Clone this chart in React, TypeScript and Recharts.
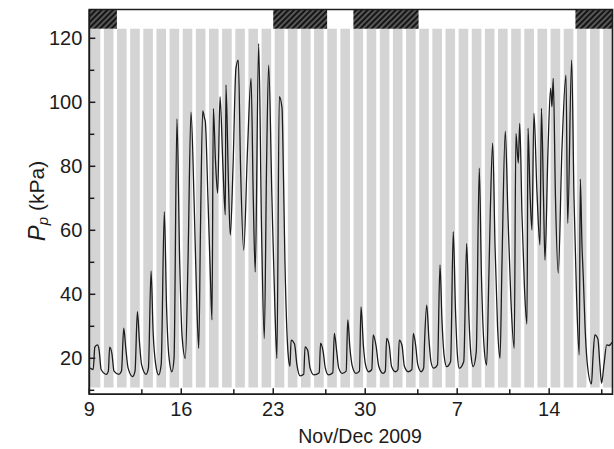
import { LineChart, Line, XAxis, YAxis, ReferenceArea } from 'recharts';

// time in days since 9 Nov 2009 00:00
const dayT = [
  0.05, 0.3, 0.42, 0.62, 0.75, 0.9, 1.3, 1.45, 1.55, 1.72, 1.88, 2.25, 2.45, 2.62, 2.78, 2.95, 3.3, 3.48, 3.66, 3.82,
  3.98, 4.32, 4.5, 4.7, 4.86, 5.04, 5.28, 5.47, 5.71, 5.88, 6.05, 6.29, 6.45, 6.67, 6.88, 7.06, 7.31, 7.51, 7.74, 7.97,
  8.16, 8.33, 8.46, 8.63, 8.77, 8.83, 9.03, 9.22, 9.34, 9.44, 9.6, 9.77, 9.95, 10.17, 10.35, 10.4, 10.59, 10.73, 10.94, 11.16,
  11.34, 11.51, 11.75, 12.04, 12.31, 12.48, 12.63, 12.89, 13.11, 13.32, 13.49, 13.65, 13.9, 14.13, 14.28, 14.46, 14.67, 14.72, 14.89, 15.12,
  15.27, 15.36, 15.62, 15.8, 16.05, 16.32, 16.42, 16.62, 16.8, 17.1, 17.5, 17.6, 17.8, 17.96, 18.2, 18.53, 18.65, 18.82, 18.98, 19.25,
  19.55, 19.67, 19.84, 20.02, 20.3, 20.56, 20.68, 20.86, 21.02, 21.25, 21.5, 21.61, 21.82, 22.03, 22.35, 22.53, 22.63, 22.83, 23.0, 23.3,
  23.49, 23.59, 23.8, 23.98, 24.28, 24.55, 24.66, 24.84, 25.0, 25.26, 25.45, 25.52, 25.68, 25.85, 26.0, 26.2, 26.5, 26.69, 26.84, 27.0,
  27.2, 27.5, 27.7, 27.87, 28.0, 28.16, 28.5, 28.72, 28.9, 29.05, 29.22, 29.45, 29.68, 29.85, 30.04, 30.24, 30.38, 30.52, 30.7, 30.88,
  31.07, 31.26, 31.41, 31.66, 31.86, 32.09, 32.34, 32.47, 32.65, 32.76, 32.93, 33.12, 33.31, 33.39, 33.54, 33.69, 33.84, 34.07, 34.3, 34.41,
  34.57, 34.68, 34.91, 35.11, 35.21, 35.31, 35.48, 35.69, 35.97, 36.28, 36.41, 36.71, 36.89, 37.08, 37.29, 37.37, 37.5, 37.6, 37.73, 37.91,
  38.22, 38.33, 38.48, 38.71, 38.86, 38.99, 39.17, 39.38, 39.55, 39.78,
];

// Pp in kPa
const ppKpa = [
  17, 16.5, 23.5, 24.2, 22.5, 16.5, 15, 16, 23.5, 21.5, 16, 15, 16, 29.4, 23, 17, 14.3, 16, 34.6, 25,
  18, 15, 17, 47.3, 28, 18.5, 14.8, 18, 65.8, 36, 21, 15.8, 20, 94.8, 50, 27, 20, 50, 96.9, 70,
  40, 23.1, 60, 97.3, 95, 94, 70, 45, 32, 98.1, 82, 71.6, 101.8, 80, 64.8, 105.4, 75, 58.5, 80, 110.6,
  113.2, 80, 53.8, 85, 107.5, 70, 47, 118.4, 60, 26.2, 80, 111.6, 70, 35, 20, 101.8, 98.2, 90.3, 50, 22,
  17.5, 25.7, 24.5, 18, 14.5, 15, 23.6, 22.5, 17, 14.8, 15.5, 24.7, 22, 17, 14.8, 15.5, 27.8, 22.5, 17, 15.3,
  16, 32, 23, 17.5, 15.3, 16, 36.1, 24, 18, 15.8, 16.5, 27.3, 24, 17.5, 15.3, 16, 26.2, 24, 17.5, 15.8,
  16.5, 25.7, 24, 17.5, 15.8, 16.5, 27.8, 24, 18, 15.8, 17, 25.5, 36.6, 26, 19, 16.9, 18, 49.2, 32, 21,
  17.4, 19, 59.6, 35, 22, 16.9, 19, 55.9, 32, 21, 17.4, 22, 79.4, 45, 24, 17.9, 40, 65.8, 87.2, 55,
  30, 20, 50, 91, 65, 38, 23.1, 90.3, 81, 93.4, 65, 42, 30.7, 91.9, 72, 60.1, 96.6, 72, 55.4, 98.1,
  70, 50.7, 85, 104.4, 98.6, 107.5, 70, 46.6, 85, 108.5, 62.2, 113.2, 70, 40, 21, 76, 55, 45, 30, 18,
  12, 20, 27.3, 26, 18, 12.2, 18, 24.2, 24, 25,
];

const majorDays = [0, 7, 14, 21, 28, 35];
const majorLabels = ['9', '16', '23', '30', '7', '14'];
const minorDays = [4, 11, 18, 25, 32, 39];
const yMajor = [20, 40, 60, 80, 100, 120];
const yMinor = [10, 30, 50, 70, 90, 110];

// hatched periods in the top band
const hatchedPeriods = [
  [0, 2.1],
  [14, 18.1],
  [20.1, 25.06],
  [37, 39.82],
];

const DAY_MAX = 39.82;
const Y_MIN = 8.75;
const Y_MAX = 129;
const BAND_Y = 123;
const STRIPE_BOTTOM = 10.85;

const FONT = 'Liberation Sans, Arial, sans-serif';
const INK = '#1c1c1c';

// grey stripes every day, white gap around late evening
const stripes = Array.from({ length: 40 }, (_, j) => [j === 0 ? 0 : j + 0.11, Math.min(j + 0.84, DAY_MAX)]);

const data = dayT.map((t, i) => ({ t, p: ppKpa[i] }));

const X_GAP = 14;
const Y_GAP = 10;

function BottomTick(props: any) {
  const { x, y, payload } = props;
  const axisY = y - X_GAP;
  const idx = majorDays.indexOf(payload.value);
  const major = idx >= 0;
  return (
    <g>
      <line x1={x} x2={x} y1={axisY} y2={axisY - (major ? 6 : 5)} stroke={INK} strokeWidth={1.5} />
      {major && (
        <text x={x} y={axisY + 22} textAnchor="middle" fontSize={20} fontFamily={FONT} fill={INK}>
          {majorLabels[idx]}
        </text>
      )}
    </g>
  );
}

function LeftTick(props: any) {
  const { x, y, payload } = props;
  const axisX = x + Y_GAP;
  const major = yMajor.includes(payload.value);
  return (
    <g>
      <line x1={axisX} x2={axisX + (major ? 6 : 5)} y1={y} y2={y} stroke={INK} strokeWidth={1.5} />
      {major && (
        <text x={axisX - 7} y={y + 7} textAnchor="end" fontSize={20} fontFamily={FONT} fill={INK}>
          {payload.value}
        </text>
      )}
    </g>
  );
}

function RightTick(props: any) {
  const { x, y } = props;
  return <line x1={x} x2={x - 5} y1={y} y2={y} stroke={INK} strokeWidth={1.5} />;
}

function YLabel() {
  return (
    <text
      transform="rotate(-90)"
      x={-201}
      y={36}
      textAnchor="middle"
      dominantBaseline="central"
      fontSize={21}
      fontFamily={FONT}
      fill={INK}
    >
      <tspan fontStyle="italic" fontSize={24}>P</tspan>
      <tspan fontStyle="italic" fontSize={15} dy={6}>p</tspan>
      <tspan dy={-6}> (kPa)</tspan>
    </text>
  );
}

function XLabel() {
  return (
    <text x={360} y={443} textAnchor="middle" fontSize={19.5} fontFamily={FONT} fill={INK}>
      Nov/Dec 2009
    </text>
  );
}

export default function App() {
  return (
    <div style={{ position: 'absolute', left: 0, top: 0 }}>
      <LineChart width={614} height={449} data={data} margin={{ top: 9.5, right: 1.5, bottom: 0, left: 0 }}>
        <defs>
          <pattern id="hatch" patternUnits="userSpaceOnUse" width="4" height="4" patternTransform="rotate(45)">
            <rect width="4" height="4" fill="#151515" />
            <line x1="1" y1="0" x2="1" y2="4" stroke="#9a9a9a" strokeWidth="1" />
          </pattern>
        </defs>
        <XAxis
          dataKey="t"
          type="number"
          domain={[0, DAY_MAX]}
          allowDataOverflow
          ticks={[...majorDays, ...minorDays].sort((a, b) => a - b)}
          interval={0}
          height={54.7}
          tickSize={0}
          tickMargin={X_GAP}
          tickLine={false}
          tick={<BottomTick />}
          axisLine={{ stroke: INK, strokeWidth: 1.6 }}
          label={{ content: () => <XLabel /> }}
        />
        <YAxis
          type="number"
          domain={[Y_MIN, Y_MAX]}
          allowDataOverflow
          ticks={[...yMajor, ...yMinor].sort((a, b) => a - b)}
          interval={0}
          width={89.3}
          tickSize={0}
          tickMargin={Y_GAP}
          tickLine={false}
          tick={<LeftTick />}
          axisLine={{ stroke: INK, strokeWidth: 1.6 }}
          label={{ content: () => <YLabel /> }}
        />
        <YAxis
          yAxisId="right"
          orientation="right"
          type="number"
          domain={[Y_MIN, Y_MAX]}
          allowDataOverflow
          ticks={[...yMajor, ...yMinor].sort((a, b) => a - b)}
          interval={0}
          width={0}
          tickSize={0}
          tickMargin={0}
          tickLine={false}
          tick={<RightTick />}
          axisLine={false}
        />
        {stripes.map(([a, b], i) => (
          <ReferenceArea key={'s' + i} x1={a} x2={b} y1={STRIPE_BOTTOM} y2={BAND_Y} fill="#d4d4d4" fillOpacity={1} stroke="none" />
        ))}
        {hatchedPeriods.map(([a, b], i) => (
          <ReferenceArea key={'h' + i} x1={a} x2={b} y1={BAND_Y} y2={Y_MAX} fill="url(#hatch)" fillOpacity={1} stroke="none" />
        ))}
        <ReferenceArea x1={0} x2={DAY_MAX} y1={Y_MIN} y2={Y_MAX} fill="none" stroke={INK} strokeWidth={1.6} />
        <Line
          dataKey="p"
          type="monotone"
          stroke={INK}
          strokeWidth={1.3}
          dot={false}
          activeDot={false}
          isAnimationActive={false}
        />
      </LineChart>
    </div>
  );
}
